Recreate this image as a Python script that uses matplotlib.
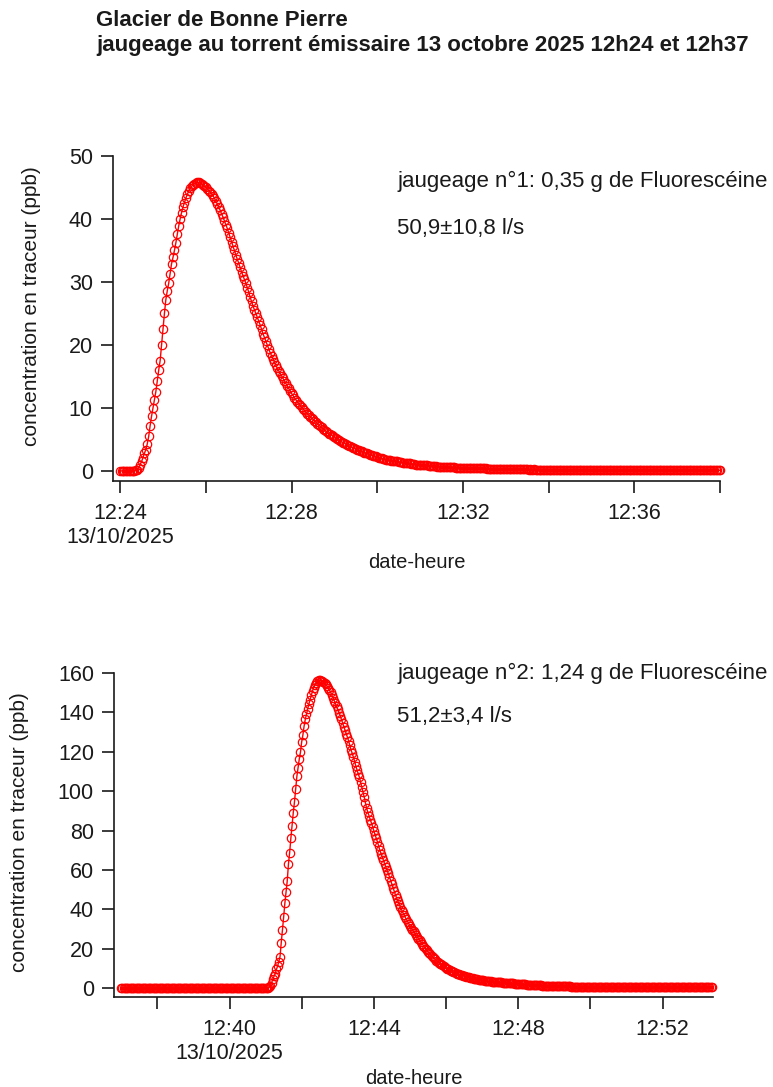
import numpy as np
import pandas as pd
import matplotlib
matplotlib.use("Agg")
import matplotlib.pyplot as plt
import matplotlib.dates as mdates
from matplotlib.ticker import FuncFormatter

plt.rcParams['font.family'] = ['Liberation Sans', 'DejaVu Sans']

# --- data: fluorescein concentration (ppb), one sample every 2 s ---
start1 = "2025-10-13 12:24:00"
conc1 = [
    0.0, 0.0, 0.0, 0.0, 0.0, 0.0, 0.0, 0.0, 0.0, 0.0, 0.0, 0.1, 0.2,
    0.5, 1.0, 1.5, 2.1, 2.8, 3.4, 4.3, 5.5, 7.2, 8.7,
    10.0, 11.2, 12.6, 14.3, 16.0, 17.5, 20.0, 22.5, 25.0, 27.2,
    28.6, 29.8, 31.3, 32.9, 33.9, 35.0, 36.2, 37.6, 38.9, 40.0,
    41.0, 41.9, 42.6, 43.3, 43.9, 44.4, 44.9, 45.2, 45.4, 45.6,
    45.7, 45.8,
    45.8, 45.7, 45.6, 45.4, 45.2, 45.1, 44.8, 44.5, 44.3, 44.0,
    43.7, 43.3, 42.8, 42.4, 41.9, 41.4, 40.8, 40.3, 39.7, 39.1,
    38.5, 37.8, 37.1, 36.4, 35.7, 35.0, 34.3, 33.6, 33.0, 32.3,
    31.6, 31.0, 30.4, 29.8, 29.1, 28.4, 27.6, 26.9, 26.2, 25.6,
    25.0, 24.4, 23.8, 23.2, 22.5, 21.8, 21.2, 20.6, 20.0, 19.4,
    18.8, 18.3, 17.8, 17.3, 16.8, 16.3, 15.9, 15.5, 15.1, 14.7,
    14.3, 13.9, 13.5, 13.1, 12.7, 12.3, 12.0, 11.6, 11.3, 11.0,
    10.7, 10.4, 10.1, 9.9, 9.6, 9.3, 9.1, 8.9, 8.6, 8.4,
    8.2, 8.0, 7.8, 7.5, 7.3, 7.1, 6.9, 6.7, 6.5, 6.3,
    6.1, 5.9, 5.8, 5.7, 5.5, 5.4, 5.2, 5.1, 4.9, 4.8,
    4.6, 4.5, 4.4, 4.3, 4.1, 4.0, 3.9, 3.8, 3.7, 3.6,
    3.5, 3.4, 3.3, 3.2, 3.1, 3.0, 2.9, 2.8, 2.8, 2.7,
    2.6, 2.5, 2.4, 2.4, 2.3, 2.2, 2.1, 2.1, 2.0, 1.9,
    1.9, 1.8, 1.8, 1.7, 1.7, 1.6, 1.6, 1.5, 1.5, 1.5,
    1.4, 1.4, 1.4, 1.3, 1.3, 1.3, 1.2, 1.2, 1.2, 1.1,
    1.1, 1.1, 1.0, 1.0, 1.0, 1.0,
    0.9, 0.9, 0.9, 0.9, 0.9, 0.8, 0.8, 0.8, 0.8, 0.8,
    0.8, 0.7, 0.7, 0.7, 0.7, 0.7, 0.7, 0.6, 0.6, 0.6,
    0.6, 0.6, 0.6, 0.6, 0.5, 0.5, 0.5, 0.5, 0.5, 0.5,
    0.5, 0.5, 0.5, 0.4, 0.4, 0.4, 0.4, 0.4, 0.4, 0.4,
    0.4, 0.4, 0.4, 0.4, 0.4, 0.4, 0.3, 0.3, 0.3, 0.3,
    0.3, 0.3, 0.3, 0.3, 0.3, 0.3, 0.3, 0.3, 0.3, 0.3,
    0.3, 0.3, 0.3, 0.3, 0.3, 0.3, 0.3, 0.3, 0.3, 0.3,
    0.3, 0.3, 0.3, 0.3, 0.3, 0.2, 0.3, 0.2, 0.2, 0.3,
    0.2, 0.2, 0.2, 0.2, 0.2, 0.2, 0.2, 0.2, 0.2, 0.2,
    0.2, 0.2, 0.2, 0.2, 0.2, 0.2, 0.2, 0.2, 0.2, 0.2,
    0.2, 0.2, 0.2, 0.2, 0.2, 0.2, 0.2, 0.2, 0.2, 0.2,
    0.2, 0.2, 0.2, 0.2, 0.2, 0.2, 0.2, 0.2, 0.2, 0.2,
    0.2, 0.2, 0.2, 0.2, 0.2, 0.2, 0.2, 0.2, 0.2, 0.2,
    0.2, 0.2, 0.2, 0.2, 0.2, 0.1, 0.2, 0.2, 0.2, 0.1,
    0.1, 0.2, 0.1, 0.1, 0.2, 0.1, 0.1, 0.1, 0.1, 0.1,
    0.1, 0.1, 0.1, 0.1, 0.1, 0.1, 0.1, 0.1, 0.1, 0.1,
    0.1, 0.1, 0.1, 0.1, 0.1, 0.1, 0.1, 0.1, 0.1, 0.1,
    0.1, 0.1, 0.1, 0.1, 0.1, 0.1, 0.1, 0.1, 0.1, 0.1,
    0.1, 0.1, 0.1, 0.1, 0.1, 0.1, 0.1, 0.1, 0.1, 0.1,
    0.1, 0.1, 0.1, 0.1, 0.1, 0.1, 0.1, 0.1, 0.1, 0.1,
    0.1, 0.1, 0.1, 0.1, 0.1, 0.1, 0.1, 0.1, 0.1, 0.1,
]

start2 = "2025-10-13 12:37:00"
conc2 = [
    0.1, 0.1, 0.1, 0.1, 0.1, 0.1, 0.1, 0.1, 0.1, 0.1,
    0.1, 0.1, 0.1, 0.1, 0.1, 0.1, 0.1, 0.1, 0.1, 0.1,
    0.1, 0.1, 0.1, 0.1, 0.1, 0.1, 0.1, 0.1, 0.1, 0.1,
    0.1, 0.1, 0.1, 0.1, 0.1, 0.1, 0.1, 0.1, 0.1, 0.1,
    0.1, 0.1, 0.1, 0.1, 0.1, 0.1, 0.1, 0.1, 0.1, 0.1,
    0.1, 0.1, 0.1, 0.1, 0.1, 0.1, 0.1, 0.1, 0.1, 0.1,
    0.1, 0.1, 0.1, 0.1, 0.1, 0.1, 0.1, 0.1, 0.1, 0.1,
    0.1, 0.1, 0.1, 0.1, 0.1, 0.1, 0.1, 0.1, 0.1, 0.1,
    0.1, 0.1, 0.1, 0.1, 0.1, 0.1, 0.1, 0.1, 0.1, 0.1,
    0.1, 0.1, 0.1, 0.1, 0.1, 0.1, 0.1, 0.1, 0.1, 0.1,
    0.1, 0.1, 0.1, 0.1, 0.1, 0.1, 0.1, 0.1, 0.1, 0.1,
    0.1, 0.1, 0.1, 0.1, 0.1, 0.1, 0.1, 0.1, 0.1, 0.1,
    0.1, 0.1, 0.2, 0.4,
    1.0, 2.8, 4.5, 6.0, 7.3, 9.5, 11.2, 13.5, 16.0, 23.0,
    29.3, 36.0, 43.0, 49.0, 54.5, 63.0, 68.8, 76.0, 82.5, 89.0,
    94.5, 101.0, 107.5, 112.0, 116.3, 119.8, 125.0, 128.5, 133.0, 136.5,
    139.0, 141.8, 144.3, 146.5, 148.7, 150.8, 152.6, 154.0, 155.0, 155.8,
    156.2, 156.3,
    156.1, 155.8, 155.4, 154.9, 154.2, 153.4, 152.5, 151.4, 150.2, 148.9,
    147.5, 146.0, 144.5, 143.0, 141.5, 139.9, 138.3, 136.5, 134.6, 132.8,
    131.0, 129.2, 127.4, 125.5, 123.3, 121.0, 119.2, 117.2, 115.0, 112.8,
    110.7, 108.8, 107.0, 104.5, 102.0, 99.6, 97.0, 94.0, 91.2, 89.3,
    87.5, 85.6, 83.8, 81.8, 79.8, 77.9, 76.0, 74.2, 72.0, 70.0,
    68.3, 66.6, 64.8, 63.0, 61.4, 59.8, 58.2, 56.4, 54.5, 52.7,
    50.9, 49.1, 47.2, 45.6, 44.1, 42.6, 41.2, 39.8, 38.5, 37.2,
    36.0, 34.9, 33.8, 32.7, 31.6, 30.6, 29.7, 28.8, 27.9, 26.9,
    26.0, 25.1, 24.2, 23.3, 22.5, 21.6, 20.8, 20.0, 19.2, 18.5,
    17.8, 17.1, 16.4, 15.8, 15.2, 14.6, 14.0, 13.5, 13.0, 12.5,
    12.0, 11.5, 11.1, 10.7, 10.3, 9.9, 9.5, 9.2, 8.9, 8.6,
    8.3, 8.0, 7.7, 7.4, 7.2, 7.0, 6.8, 6.6, 6.4, 6.2,
    6.0, 5.8, 5.6, 5.4, 5.2, 5.0, 4.9, 4.8, 4.7, 4.6,
    4.5, 4.3, 4.2, 4.1, 4.0, 3.9, 3.8, 3.7, 3.6, 3.5,
    3.4, 3.4, 3.3, 3.2, 3.2, 3.1, 3.1, 3.0, 3.0, 2.9,
    2.9, 2.8, 2.8, 2.7, 2.7, 2.6, 2.6, 2.5, 2.5, 2.4,
    2.4, 2.3, 2.3, 2.2, 2.2, 2.1, 2.1, 2.0, 2.0, 1.9,
    1.9, 1.8, 1.8, 1.7, 1.7, 1.6, 1.6, 1.6, 1.5, 1.5,
    1.5, 1.4, 1.4, 1.4, 1.3, 1.3, 1.3, 1.2, 1.2, 1.2,
    1.2, 1.1, 1.1, 1.1, 1.1, 1.0, 1.0, 1.0, 1.0, 1.0,
    0.9, 0.9, 0.9, 0.9, 0.9, 0.9, 0.9, 0.9, 0.8, 0.8,
    0.8, 0.8, 0.8, 0.8, 0.8, 0.8, 0.8, 0.8, 0.8, 0.8,
    0.8, 0.8, 0.7, 0.7, 0.7, 0.7, 0.7, 0.7, 0.7, 0.7,
    0.7, 0.7, 0.7, 0.7, 0.7, 0.7, 0.7, 0.7, 0.7, 0.7,
    0.7, 0.7, 0.6, 0.6, 0.6, 0.6, 0.6, 0.6, 0.6, 0.6,
    0.6, 0.6, 0.6, 0.6, 0.6, 0.6, 0.6, 0.6, 0.6, 0.6,
    0.6, 0.6, 0.6, 0.6, 0.6, 0.6, 0.6, 0.6, 0.6, 0.6,
    0.6, 0.6, 0.5, 0.5, 0.5, 0.5, 0.5, 0.5, 0.5, 0.5,
    0.5, 0.5, 0.5, 0.5, 0.5, 0.5, 0.5, 0.5, 0.5, 0.5,
    0.5, 0.5, 0.5, 0.5, 0.5, 0.5, 0.5, 0.5, 0.5, 0.5,
    0.5, 0.5, 0.4, 0.4, 0.4, 0.4, 0.4, 0.4, 0.4, 0.4,
    0.4, 0.4, 0.4, 0.4, 0.4, 0.4, 0.4, 0.4, 0.4, 0.4,
    0.4, 0.4, 0.4, 0.4, 0.4, 0.4,
]

title1 = "Glacier de Bonne Pierre"
title2 = "jaugeage au torrent émissaire 13 octobre 2025 12h24 et 12h37"
notes1 = ["jaugeage n°1: 0,35 g de Fluorescéine", "50,9±10,8 l/s"]
notes2 = ["jaugeage n°2: 1,24 g de Fluorescéine", "51,2±3,4 l/s"]
date_label = "13/10/2025"
ylabel = "concentration en traceur (ppb)"
xlabel = "date-heure"

t1 = pd.date_range(start1, periods=len(conc1), freq="2s")
t2 = pd.date_range(start2, periods=len(conc2), freq="2s")

txt = "#1a1a1a"
red = "#ff0000"

fig = plt.figure(figsize=(7.73, 10.87), dpi=100)
ax1 = fig.add_axes([0.1462, 0.5575, 0.7852, 0.2990])
ax2 = fig.add_axes([0.1475, 0.0828, 0.7750, 0.2981])


def fmt_time(first):
    def f(v, pos):
        d = mdates.num2date(v)
        if d.minute % 4 != 0:
            return ""
        s = d.strftime("%H:%M")
        if s == first:
            s += "\n" + date_label
        return s
    return FuncFormatter(f)


def style(ax, t, c, ylim, yticks, first, xl, yl_pos):
    ax.plot(t, c, color=red, lw=1.0, marker="o", ms=6, mfc="none",
            mec=red, mew=0.9, clip_on=False, zorder=3)
    ax.set_ylim(*ylim)
    ax.set_yticks(yticks)
    ax.set_xlim(*xl)
    ax.xaxis.set_major_locator(mdates.MinuteLocator(byminute=range(0, 60, 2)))
    ax.xaxis.set_major_formatter(fmt_time(first))
    for s in ["top", "right"]:
        ax.spines[s].set_visible(False)
    for s in ["left", "bottom"]:
        ax.spines[s].set_linewidth(1.2)
        ax.spines[s].set_color(txt)
    ax.tick_params(axis="both", direction="out", length=8.5, width=1.2,
                   color=txt, labelcolor=txt, labelsize=15.5)
    ax.tick_params(axis="x", pad=7)
    ax.tick_params(axis="y", pad=6)
    ax.set_xlabel(xlabel, fontsize=14.5, color=txt, labelpad=3.5)
    ax.set_ylabel(ylabel, fontsize=15, color=txt)
    ax.yaxis.set_label_coords(*yl_pos)


style(ax1, t1, conc1, (-1.6, 50), range(0, 51, 10), "12:24",
      (pd.Timestamp(start1) - pd.Timedelta(seconds=10),
       pd.Timestamp(start1) + pd.Timedelta(seconds=840)),
      (-0.118, 0.538))
style(ax2, t2, conc2, (-4.5, 160), range(0, 161, 20), "12:40",
      (pd.Timestamp(start2) - pd.Timedelta(seconds=12),
       pd.Timestamp(start2) + pd.Timedelta(seconds=984)),
      (-0.142, 0.51))

for ax, notes, ys in [(ax1, notes1, (0.923, 0.778)), (ax2, notes2, (1.0, 0.867))]:
    for n, y in zip(notes, ys):
        ax.text(0.468 if ax is ax1 else 0.4725, y, n, transform=ax.transAxes,
                fontsize=16, color=txt, va="center", ha="left")

fig.text(96 / 773, 1 - 20 / 1087, title1, fontsize=16, fontweight="bold",
         color=txt, va="center", ha="left")
fig.text(96 / 773, 1 - 45 / 1087, title2, fontsize=16, fontweight="bold",
         color=txt, va="center", ha="left")

fig.savefig("out.png", dpi=100)
